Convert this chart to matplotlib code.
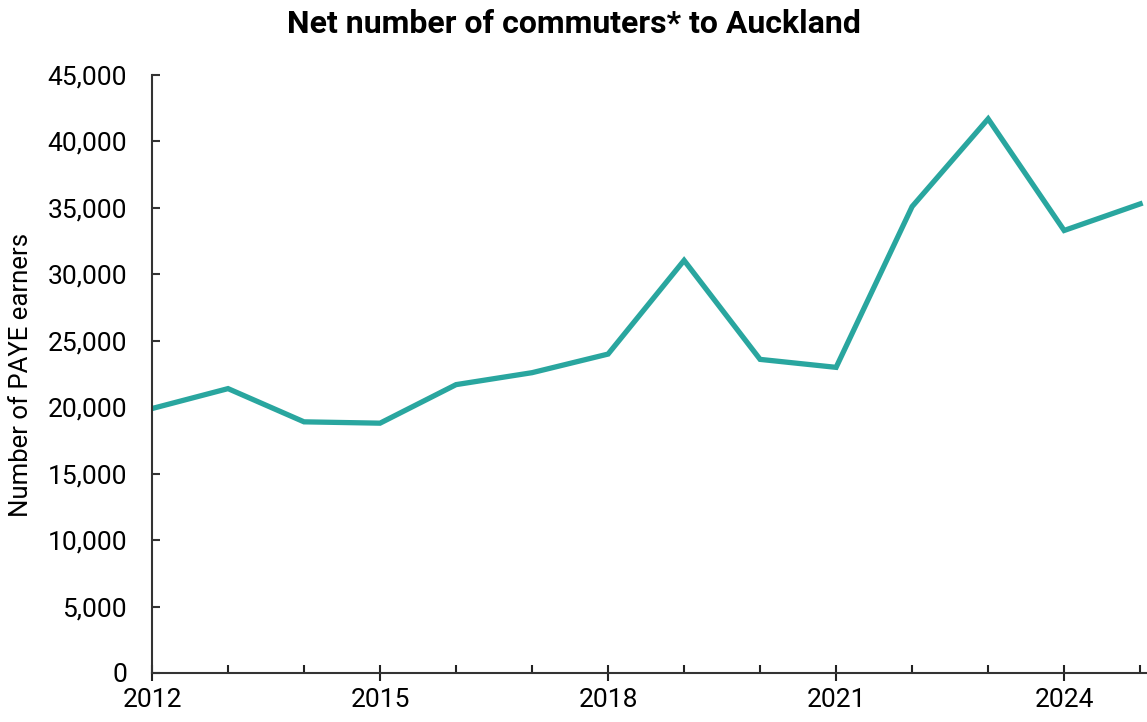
import numpy as np
import matplotlib.pyplot as plt
from matplotlib.ticker import FuncFormatter, MultipleLocator

# net commuters to Auckland
years = [2012, 2013, 2014, 2015, 2016, 2017, 2018,
         2019, 2020, 2021, 2022, 2023, 2024, 2025]
commuters = [19900, 21400, 18900, 18800, 21700, 22600, 24000,
             31050, 23600, 23000, 35100, 41700, 33300, 35300]

x_labels = [2012, 2015, 2018, 2021, 2024]

plt.rcParams['font.family'] = ['Roboto', 'DejaVu Sans']

fig = plt.figure(figsize=(11.47, 7.22), dpi=100)
ax = fig.add_axes([152/1147, 49/722, 1 - 152/1147, (673 - 75)/722])

ax.plot(years, commuters, color='#29a69f', lw=3.8, solid_joinstyle='miter')

ax.set_xlim(2012, 2025.09)
ax.set_ylim(0, 45000)

ax.set_xticks(x_labels)
ax.xaxis.set_minor_locator(MultipleLocator(1))
ax.yaxis.set_major_locator(MultipleLocator(5000))
ax.yaxis.set_major_formatter(FuncFormatter(lambda v, p: f'{int(v):,}'))

for s in ['top', 'right']:
    ax.spines[s].set_visible(False)
for s in ['left', 'bottom']:
    ax.spines[s].set_color('#333333')
    ax.spines[s].set_linewidth(1.5)

ax.tick_params(axis='x', which='major', direction='inout', length=12, width=1.5,
               color='#222222', labelsize=19, pad=5)
ax.tick_params(axis='x', which='minor', direction='in', length=6, width=1.5,
               color='#222222')
ax.tick_params(axis='y', which='major', direction='in', length=6, width=1.5,
               color='#333333', labelsize=19, pad=18)

fig.text(0.5, 0.988, 'Net number of commuters* to Auckland', ha='center', va='top',
         fontsize=23, fontweight='bold')
fig.text(21/1147, 347/722, 'Number of PAYE earners', rotation=90,
         ha='center', va='center', fontsize=18.5)

fig.savefig('out.png', dpi=100)
